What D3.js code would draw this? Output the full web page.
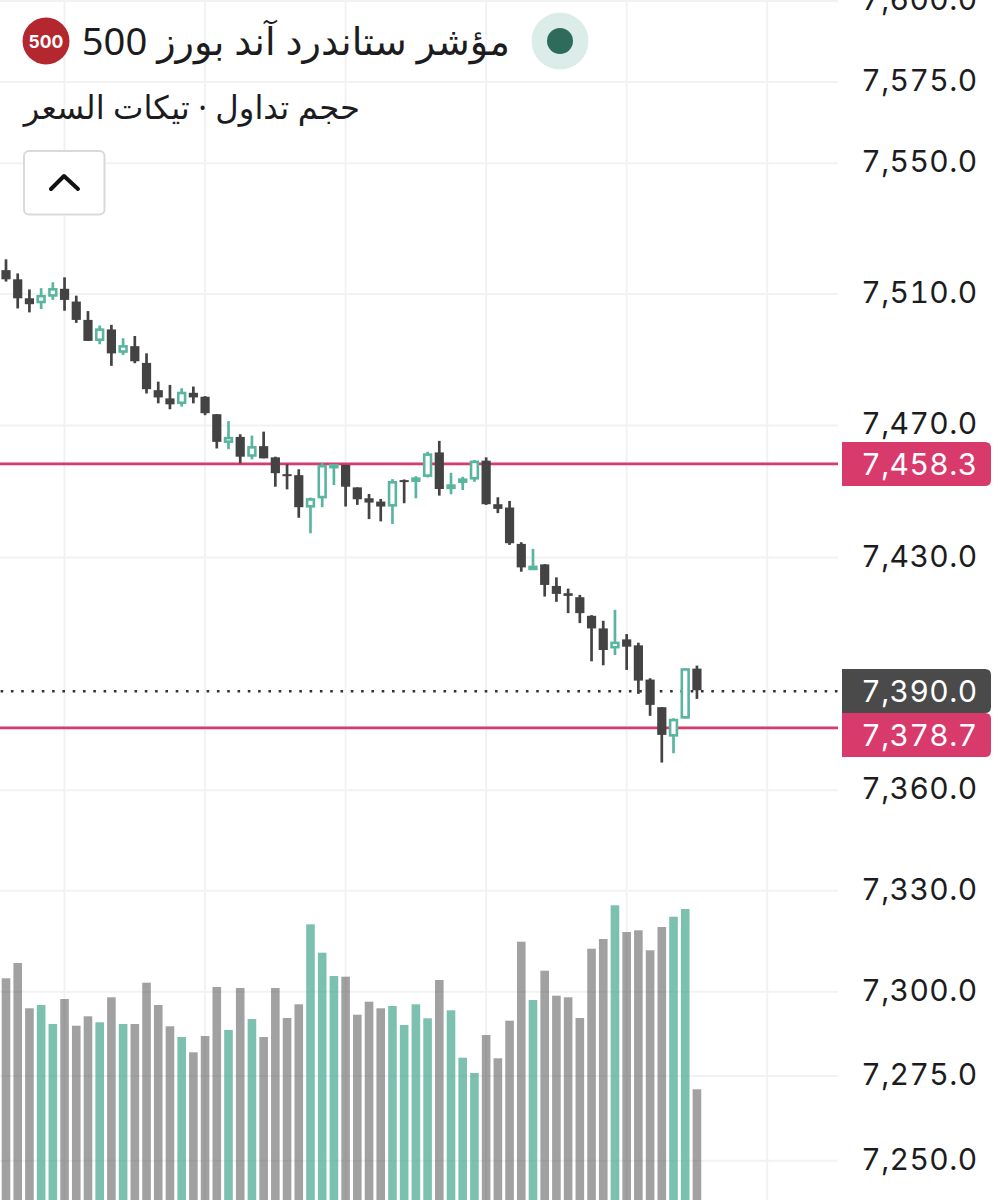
<!DOCTYPE html>
<html lang="ar">
<head>
<meta charset="utf-8">
<title>مؤشر ستاندرد آند بورز 500</title>
<script src="https://cdn.jsdelivr.net/npm/d3@7/dist/d3.min.js"></script>
<style>
  html, body { margin: 0; padding: 0; background: #fff; }
  svg { display: block; }
  .price-tick, .price-tag { font-family: Inter, Roboto, sans-serif; font-size: 30px; letter-spacing: 0.4px; font-feature-settings: "tnum" 1; font-variant-numeric: tabular-nums; }
  .price-tick { fill: #1c1c1e; }
  .price-tag { fill: #fff; }
</style>
</head>
<body>
<svg id="chart" width="1004" height="1200"></svg>
<script>
// Session candles, oldest first
const highs = [7520.6,7516.3,7511.4,7511.8,7513.6,7515.1,7509.5,7504.8,7500.4,7500.6,7496.5,7497.2,7491.9,7483.3,7482.3,7481.3,7481.8,7478.9,7473.4,7471.3,7467.3,7466.9,7468.1,7460.5,7458.2,7456.7,7448.1,7458.7,7458.3,7458.0,7451.2,7449.2,7447.7,7453.7,7453.6,7454.6,7462.0,7465.3,7455.6,7454.4,7459.5,7460.3,7448.2,7447.1,7434.6,7432.6,7428.0,7424.0,7420.6,7418.7,7412.6,7410.9,7414.2,7406.9,7404.3,7393.6,7384.9,7381.6,7396.6,7397.4];
const lows = [7513.8,7505.6,7504.4,7505.4,7508.2,7504.9,7501.2,7495.7,7494.7,7488.1,7491.4,7488.9,7479.7,7476.7,7474.9,7475.7,7476.7,7473.1,7463.0,7462.8,7458.5,7459.7,7460.0,7451.4,7450.6,7442.0,7437.3,7445.2,7451.9,7445.4,7445.9,7441.6,7440.9,7440.1,7446.4,7447.9,7454.2,7448.7,7449.1,7450.4,7452.9,7445.9,7443.4,7433.8,7425.7,7426.2,7418.2,7416.6,7413.2,7410.2,7398.7,7397.5,7400.6,7396.1,7388.9,7382.3,7368.3,7371.1,7381.5,7387.4];
const opens = [7517.3,7514.5,7508.7,7507.2,7509.2,7511.6,7507.7,7502.1,7495.7,7499.2,7492.1,7494.1,7489.0,7480.7,7478.2,7476.5,7479.9,7478.7,7473.4,7464.7,7466.5,7460.5,7463.7,7460.3,7455.2,7454.9,7445.1,7447.9,7457.9,7458.0,7451.2,7447.9,7446.9,7445.4,7453.4,7452.9,7454.4,7461.8,7450.7,7453.1,7453.6,7459.3,7446.1,7445.1,7434.1,7426.7,7427.9,7421.4,7419.2,7418.0,7412.4,7408.6,7402.6,7405.3,7403.5,7393.2,7384.9,7376.1,7381.5,7396.5];
const closes = [7514.5,7508.7,7506.9,7509.7,7511.8,7508.2,7502.1,7495.7,7499.5,7491.9,7494.4,7489.5,7481.0,7478.5,7476.4,7480.2,7478.5,7473.7,7465.0,7466.5,7460.5,7463.7,7460.0,7455.5,7454.6,7445.2,7447.9,7458.0,7458.3,7451.4,7447.6,7446.6,7445.4,7453.1,7452.8,7454.2,7461.5,7450.7,7452.1,7453.9,7459.3,7446.1,7444.7,7434.3,7427.0,7427.5,7421.7,7419.0,7418.4,7413.2,7408.6,7402.1,7404.6,7403.1,7392.9,7385.6,7376.6,7381.4,7396.6,7390.0];

// Traded volume per candle, in thousands
const volumes = [221.7,237,191.7,195,176,201,174.3,183.7,177.7,202.7,176,176,217.3,195,173.7,163,147.7,164,213,170,212,181,163,212,182,195.7,275.7,247.3,224,223.3,185.3,198.3,191.7,194,175,195.7,181.7,220,189.7,142.3,127,165,141.7,179.3,258.3,200,229.3,204.3,202.7,182,251.3,261,294.7,268,269.7,249.7,273,283.3,291,110.7];
// Candles whose volume bar is shown in the rising colour
const risingVolumeBars = [3,4,8,10,15,19,21,26,27,28,33,34,35,36,38,39,40,45,52,57,58];

const priceTicks = [7600,7575,7550,7510,7470,7430,7360,7330,7300,7275,7250];
const timeGridSlots = [5,17,29,41,53,65];
const alertLevels = [7458.3,7378.7];
const lastPrice = 7390.0;

const titleText = "مؤشر ستاندرد آند بورز 500";
const subtitleText = "حجم تداول · تيكات السعر";
const badgeText = "500";

const UP = "#5ab5a0", DOWN = "#434343", ALERT = "#d83a6c", GRID = "#f2f2f4";
const plotRight = 838, tagLeft = 842, tagRight = 991;

const svg = d3.select("#chart");
const fmt = d3.format(",.1f");

const x = d3.scaleLinear().domain([0, 65]).range([6, 767.2]);
const y = d3.scaleLog().domain([7250, 7600]).range([1160.7, 1]);
const vol = d3.scaleLinear().domain([0, 300]).range([1200, 900]);

// Grid
const grid = svg.append("g");
grid.selectAll("line.h").data(priceTicks).join("line").attr("class", "h")
  .attr("x1", 0).attr("x2", plotRight)
  .attr("y1", d => y(d)).attr("y2", d => y(d))
  .attr("stroke", GRID).attr("stroke-width", 2);
grid.selectAll("line.v").data(timeGridSlots).join("line").attr("class", "v")
  .attr("x1", d => x(d)).attr("x2", d => x(d))
  .attr("y1", 0).attr("y2", 1200)
  .attr("stroke", GRID).attr("stroke-width", 2);

// Price axis labels
const axis = svg.append("g").attr("transform", "translate(977.5,-1)")
  .call(d3.axisRight(y).tickValues(priceTicks).tickFormat(fmt).tickSize(0).tickPadding(0));
axis.select(".domain").remove();
axis.selectAll("text").attr("class", "price-tick").attr("text-anchor", "end")
  .attr("font-family", null).attr("font-size", null).attr("fill", null);

// Volume bars
const isRising = new Set(risingVolumeBars);
svg.append("g").selectAll("rect").data(volumes).join("rect")
  .attr("x", (d, i) => x(i) - 4.3).attr("width", 8.6)
  .attr("y", d => vol(d)).attr("height", d => vol(0) - vol(d))
  .attr("fill", (d, i) => isRising.has(i) ? "#44a58e" : "#444444")
  .attr("fill-opacity", (d, i) => isRising.has(i) ? 0.7 : 0.5);

// Alert levels and last price line
svg.append("g").selectAll("line").data(alertLevels).join("line")
  .attr("x1", 0).attr("x2", plotRight)
  .attr("y1", d => y(d)).attr("y2", d => y(d))
  .attr("stroke", ALERT).attr("stroke-width", 2.8);
svg.append("line")
  .attr("x1", 0).attr("x2", plotRight)
  .attr("y1", y(lastPrice) + 1).attr("y2", y(lastPrice) + 1)
  .attr("stroke", "#333").attr("stroke-width", 2.6)
  .attr("stroke-dasharray", "2.6 7.7").attr("stroke-dashoffset", -0.6);

// Candles
const candles = highs.map((h, i) => ({ i, h, l: lows[i], o: opens[i], c: closes[i], up: closes[i] >= opens[i] }));
const candleG = svg.append("g").selectAll("g").data(candles).join("g");
candleG.append("line")
  .attr("x1", d => x(d.i)).attr("x2", d => x(d.i))
  .attr("y1", d => y(d.h)).attr("y2", d => y(d.l))
  .attr("stroke", d => d.up ? UP : DOWN).attr("stroke-width", 2.7);
candleG.append("rect")
  .attr("x", d => x(d.i) - (d.up ? 3.4 : 4.6))
  .attr("width", d => d.up ? 6.8 : 9.2)
  .attr("y", d => y(Math.max(d.o, d.c)) + (d.up ? 1.2 : 0))
  .attr("height", d => Math.max(y(Math.min(d.o, d.c)) - y(Math.max(d.o, d.c)) - (d.up ? 2.4 : 0), 2))
  .attr("fill", d => d.up ? "#fff" : DOWN)
  .attr("stroke", d => d.up ? UP : "none")
  .attr("stroke-width", d => d.up ? 2.6 : 0);

// Price tags on the right edge
function tagPath(top, bottom) {
  const r = 6, p = d3.path();
  p.moveTo(tagLeft, top);
  p.lineTo(tagRight - r, top);
  p.quadraticCurveTo(tagRight, top, tagRight, top + r);
  p.lineTo(tagRight, bottom - r);
  p.quadraticCurveTo(tagRight, bottom, tagRight - r, bottom);
  p.lineTo(tagLeft, bottom);
  p.closePath();
  return p.toString();
}
const tags = [
  { value: alertLevels[0], top: 442, bottom: 486, fill: ALERT },
  { value: lastPrice, top: 669, bottom: 713, fill: "#4a4a4a" },
  { value: alertLevels[1], top: 713, bottom: 757, fill: ALERT }
];
const tagG = svg.append("g").selectAll("g").data(tags).join("g");
tagG.append("path").attr("d", d => tagPath(d.top, d.bottom)).attr("fill", d => d.fill);
tagG.append("text").attr("class", "price-tag")
  .attr("x", 977.5).attr("y", d => (d.top + d.bottom) / 2)
  .attr("dy", "0.36em").attr("text-anchor", "end")
  .text(d => fmt(d.value));

// Header: market status, instrument name, badge
svg.append("circle").attr("cx", 560).attr("cy", 41).attr("r", 28.5).attr("fill", "#dcece8");
svg.append("circle").attr("cx", 560).attr("cy", 41).attr("r", 13).attr("fill", "#2e6b5a");
svg.append("text").attr("x", 510).attr("y", 55)
  .attr("direction", "rtl").attr("text-anchor", "start")
  .attr("font-family", "'Noto Sans', 'DejaVu Sans', sans-serif").attr("font-size", 38.2).attr("fill", "#1c1c1e")
  .text(titleText);
svg.append("circle").attr("cx", 46).attr("cy", 41).attr("r", 23.5).attr("fill", "#b5272f");
svg.append("text").attr("x", 46).attr("y", 47.5).attr("text-anchor", "middle")
  .attr("font-family", "Inter, Roboto, sans-serif").attr("font-weight", 700).attr("font-size", 17.5).attr("fill", "#fff")
  .text(badgeText);
svg.append("text").attr("x", 360).attr("y", 119)
  .attr("direction", "rtl").attr("text-anchor", "start")
  .attr("font-family", "'Noto Sans', 'DejaVu Sans', sans-serif").attr("font-size", 32.3).attr("fill", "#1c1c1e")
  .text(subtitleText);

// Collapse button
svg.append("rect").attr("x", 24).attr("y", 151).attr("width", 80.5).attr("height", 63.5).attr("rx", 5)
  .attr("fill", "#fff").attr("stroke", "#d9d9d9").attr("stroke-width", 2);
svg.append("path")
  .attr("d", d3.line()([[51, 189], [64, 176], [78, 189]]))
  .attr("fill", "none").attr("stroke", "#111").attr("stroke-width", 4)
  .attr("stroke-linecap", "round").attr("stroke-linejoin", "round");
</script>
</body>
</html>
